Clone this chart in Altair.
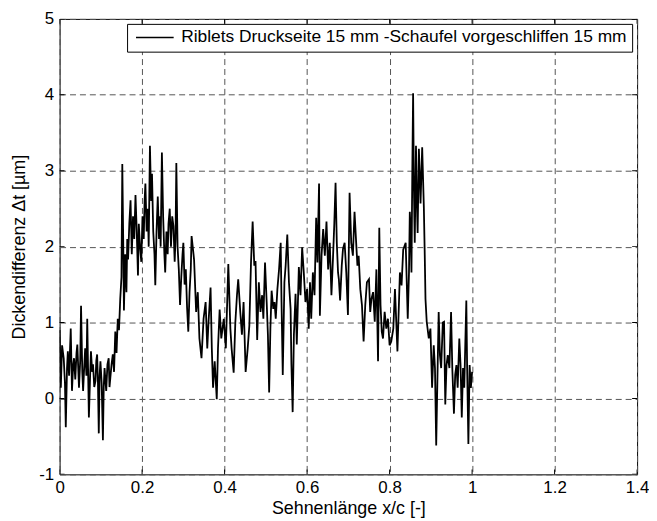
import altair as alt
import pandas as pd

# x/c positions and thickness difference values
pos = [
    0.000, 0.003, 0.006, 0.010, 0.013, 0.015, 0.018, 0.020, 0.023, 0.027,
    0.030, 0.033, 0.035, 0.038, 0.041, 0.043, 0.047, 0.050, 0.052, 0.055,
    0.057, 0.060, 0.062, 0.065, 0.067, 0.069, 0.071, 0.074, 0.076, 0.079,
    0.081, 0.084, 0.087, 0.089, 0.091, 0.093, 0.095, 0.097, 0.099, 0.102,
    0.105, 0.107, 0.109, 0.111, 0.113, 0.116, 0.119, 0.121, 0.123, 0.126,
    0.129, 0.132, 0.135, 0.138, 0.141, 0.144, 0.147, 0.150,
    0.152, 0.154, 0.156, 0.159, 0.162, 0.164, 0.166, 0.169, 0.172, 0.175,
    0.178, 0.181, 0.184, 0.187, 0.190, 0.192, 0.195, 0.198, 0.201, 0.204,
    0.206, 0.208, 0.211, 0.214, 0.216, 0.219, 0.222, 0.224, 0.227, 0.230,
    0.232, 0.235, 0.238, 0.241, 0.243, 0.245, 0.248, 0.251, 0.254, 0.256,
    0.259, 0.262, 0.264, 0.267, 0.270, 0.273, 0.276, 0.279, 0.281, 0.283,
    0.286, 0.289, 0.292, 0.295, 0.298, 0.300, 0.303, 0.306, 0.309, 0.312,
    0.315, 0.318, 0.320,
    0.326, 0.331, 0.335, 0.339, 0.344, 0.349, 0.354, 0.358, 0.361, 0.366,
    0.369, 0.372, 0.376, 0.381, 0.384, 0.388, 0.392, 0.398, 0.403, 0.409,
    0.414, 0.417, 0.422, 0.426, 0.430, 0.433, 0.438, 0.442, 0.446, 0.451,
    0.456, 0.460, 0.464, 0.468, 0.472,
    0.475, 0.479, 0.483, 0.487, 0.491, 0.494, 0.498, 0.502, 0.505, 0.508,
    0.511, 0.514, 0.518, 0.521, 0.524, 0.528, 0.532, 0.536, 0.538, 0.541,
    0.545, 0.548, 0.552, 0.556, 0.560, 0.562, 0.565, 0.568, 0.572, 0.575,
    0.580, 0.584, 0.588, 0.592, 0.596, 0.600, 0.604, 0.607, 0.610, 0.614,
    0.618, 0.622, 0.625, 0.629, 0.631, 0.635, 0.639,
    0.643, 0.647, 0.651, 0.655, 0.659, 0.663, 0.666, 0.669, 0.672, 0.675,
    0.677, 0.680, 0.684, 0.687, 0.691, 0.695, 0.699, 0.703, 0.707, 0.711,
    0.715, 0.719, 0.722, 0.725, 0.729, 0.733, 0.737, 0.741, 0.745, 0.750,
    0.753, 0.756, 0.760, 0.764, 0.768, 0.772, 0.775, 0.778, 0.781, 0.784,
    0.788, 0.792, 0.796, 0.800, 0.804, 0.809,
    0.813, 0.819, 0.825, 0.829, 0.833, 0.839, 0.844, 0.847, 0.849, 0.851,
    0.853, 0.855, 0.857, 0.859, 0.861, 0.864, 0.866, 0.868, 0.871, 0.873,
    0.875, 0.879, 0.883, 0.885, 0.887, 0.890, 0.895, 0.899, 0.903, 0.907,
    0.910, 0.913, 0.917, 0.919, 0.922, 0.925, 0.929, 0.932, 0.935, 0.938,
    0.941, 0.945, 0.949, 0.952, 0.956, 0.959, 0.962, 0.965, 0.969, 0.972,
    0.975, 0.978, 0.981, 0.986, 0.988, 0.991, 0.994, 0.997, 1.000,
]

diff = [
    0.90, 0.14, 0.70, 0.53, 0.20, -0.38, 0.40, 0.62, 0.30, 0.92,
    0.10, 0.45, 0.53, 0.25, 0.60, 0.71, 0.14, 0.50, 1.22, 0.35,
    0.10, 0.45, 0.66, 0.30, 1.05, 0.40, -0.25, 0.30, 0.62, 0.35,
    0.45, 0.15, 0.23, 0.50, 0.58, 0.20, -0.46, 0.30, 0.49, 0.20,
    -0.55, 0.15, 0.40, 0.25, 0.10, 0.45, 0.53, 0.15, 0.27, 0.45,
    0.58, 0.35, 0.88, 0.60, 1.05, 0.90, 1.31, 1.60,
    3.09, 2.20, 1.16, 1.90, 1.40, 2.10, 1.83, 2.30, 2.61, 1.90,
    2.40, 2.10, 2.68, 2.20, 1.62, 2.30, 2.00, 1.80, 2.40, 2.10,
    2.60, 2.83, 2.20, 2.50, 2.00, 3.33, 2.60, 2.96, 2.20, 1.90,
    1.49, 2.20, 2.66, 2.10, 2.40, 2.00, 3.24, 2.40, 1.90, 1.66,
    2.20, 1.90, 2.30, 2.50, 2.00, 2.40, 2.27, 1.80, 2.10, 3.10,
    2.00, 1.70, 1.23, 1.60, 1.90, 2.05, 1.50, 1.70, 1.20, 0.88,
    1.40, 1.70, 2.14,
    1.83, 1.14, 1.40, 0.79, 0.53, 1.05, 1.27, 0.66, 1.00, 1.46,
    0.66, 0.14, 0.49, -0.01, 0.66, 1.17, 0.79, 1.05, 0.66, 1.77,
    0.92, 0.66, 0.34, 1.00, 1.36, 1.57, 1.14, 0.84, 1.27, 0.35,
    0.66, 0.96, 1.79, 2.33, 1.75,
    1.81, 0.77, 1.53, 1.14, 1.36, 1.05, 1.79, 1.27, 0.84, 0.08,
    0.92, 1.42, 1.18, 1.27, 1.05, 1.44, 1.70, 2.05, 1.27, 0.31,
    1.53, 1.75, 2.16, 1.53, 1.18, 0.45, -0.18, 0.84, 1.38, 0.71,
    1.73, 1.36, 1.99, 1.66, 1.27, 1.44, 0.92, 1.53, 1.05, 1.66,
    1.36, 2.38, 1.79, 2.83, 1.09, 1.88, 2.23,
    1.88, 2.33, 1.70, 2.05, 1.36, 1.88, 2.31, 2.84, 2.05, 1.66,
    1.57, 1.29, 1.75, 1.97, 2.05, 1.66, 1.10, 2.71, 2.05, 1.88,
    2.46, 2.05, 1.75, 1.88, 1.44, 1.23, 0.75, 1.23, 1.53, 1.57,
    1.14, 1.31, 1.40, 1.01, 1.70, 0.49, 2.25, 1.23, 0.88, 0.79,
    1.14, 0.92, 1.05, 0.70, 0.75, 0.92,
    1.44, 0.62, 1.66, 1.49, 1.96, 2.05, 1.05, 1.66, 2.46, 2.22,
    1.66, 2.96, 4.02, 2.75, 2.05, 3.33, 2.61, 2.18, 3.29, 2.96,
    2.57, 3.31, 2.53, 1.96, 1.31, 1.01, 0.79, 0.92, 0.14, 0.70,
    0.40, -0.62, 0.57, 1.14, 0.57, 0.40, 1.00, 1.01, -0.08, 0.44,
    0.57, 0.40, 1.14, 0.40, -0.20, 0.31, 0.44, 0.14, 0.79, 0.44,
    -0.25, 0.40, 0.14, 1.29, 0.40, -0.60, 0.44, 0.14, 0.35,
]

series_name = "Riblets Druckseite 15 mm -Schaufel vorgeschliffen 15 mm"
x_ticks = [0, 0.2, 0.4, 0.6, 0.8, 1, 1.2, 1.4]
y_ticks = [-1, 0, 1, 2, 3, 4, 5]
x_title = "Sehnenlänge x/c [-]"
y_title = "Dickendifferenz Δt [µm]"

FONT = "Liberation Sans"

df = pd.DataFrame({"x": pos, "y": diff, "series": series_name})

x_scale = alt.Scale(domain=[0, 1.4], nice=False, zero=False)
y_scale = alt.Scale(domain=[-1, 5], nice=False, zero=False)

x_axis = alt.Axis(
    values=x_ticks, grid=True, gridColor="#555555", gridDash=[6, 4],
    gridWidth=1, gridOpacity=1, ticks=False, domain=False, labelFlush=False,
    labelExpr="'' + datum.value", labelFont=FONT, labelFontSize=17,
    labelColor="black", labelPadding=5, title=x_title, titleFont=FONT,
    titleFontSize=18, titleFontWeight="normal", titleColor="black",
    titlePadding=4,
)
y_axis = alt.Axis(
    values=y_ticks, grid=True, gridColor="#555555", gridDash=[6, 4],
    gridWidth=1, gridOpacity=1, ticks=False, domain=False, labelFlush=False,
    labelExpr="datum.value < 0 ? '-' + abs(datum.value) : '' + datum.value",
    labelFont=FONT, labelFontSize=17, labelColor="black", labelPadding=6,
    title=y_title, titleFont=FONT, titleFontSize=18,
    titleFontWeight="normal", titleColor="black", titlePadding=10,
)

line = alt.Chart(df).mark_line(strokeWidth=1.8, clip=True).encode(
    x=alt.X("x:Q", scale=x_scale, axis=x_axis),
    y=alt.Y("y:Q", scale=y_scale, axis=y_axis),
    color=alt.Color(
        "series:N",
        scale=alt.Scale(range=["black"]),
        legend=alt.Legend(
            title=None, orient="top-right", offset=5,
            symbolType="M-1,0H7", symbolSize=90, symbolStrokeWidth=1.5,
            symbolStrokeColor="black", symbolFillColor="transparent",
            labelFont=FONT, labelFontSize=17.5, labelColor="black",
            labelLimit=1000, strokeColor="black", fillColor="white",
            padding=5, cornerRadius=0, labelOffset=32,
        ),
    ),
)

# inward tick marks on all four sides of the frame
xt = pd.DataFrame(
    {"t": x_ticks * 2, "edge": [-1] * len(x_ticks) + [5] * len(x_ticks)}
)
yt = pd.DataFrame(
    {"t": y_ticks * 2, "edge": [0] * len(y_ticks) + [1.4] * len(y_ticks)}
)
xtick_marks = alt.Chart(xt).mark_tick(
    orient="vertical", size=10, thickness=1, color="black", clip=True,
    opacity=1,
).encode(x=alt.X("t:Q", scale=x_scale), y=alt.Y("edge:Q", scale=y_scale))
ytick_marks = alt.Chart(yt).mark_tick(
    orient="horizontal", size=10, thickness=1, color="black", clip=True,
    opacity=1,
).encode(x=alt.X("edge:Q", scale=x_scale), y=alt.Y("t:Q", scale=y_scale))

chart = (
    alt.layer(xtick_marks, ytick_marks, line)
    .properties(
        width=582, height=459,
        autosize=alt.AutoSizeParams(type="none"),
        padding={"left": 52, "top": 9, "right": 12, "bottom": 42},
        background="white",
    )
    .configure_view(stroke="black", strokeWidth=1)
)

chart.save("out.html", embed_options={"renderer": "svg", "actions": False})
